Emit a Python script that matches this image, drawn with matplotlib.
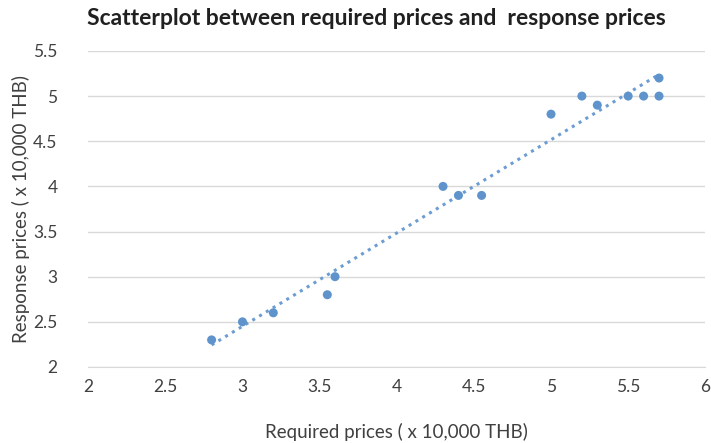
import matplotlib
matplotlib.use("Agg")
import matplotlib.pyplot as plt
import numpy as np

required = [2.8, 3.0, 3.2, 3.55, 3.6, 4.3, 4.4, 4.55, 5.0, 5.2, 5.3, 5.5, 5.6, 5.7, 5.7]
response = [2.3, 2.5, 2.6, 2.8, 3.0, 4.0, 3.9, 3.9, 4.8, 5.0, 4.9, 5.0, 5.0, 5.0, 5.2]
x_ticks = [2, 2.5, 3, 3.5, 4, 4.5, 5, 5.5, 6]
y_ticks = [2, 2.5, 3, 3.5, 4, 4.5, 5, 5.5]
x_tick_labels = ["2", "2.5", "3", "3.5", "4", "4.5", "5", "5.5", "6"]
y_tick_labels = ["2", "2.5", "3", "3.5", "4", "4.5", "5", "5.5"]

plt.rcParams['font.family'] = ['Lato', 'DejaVu Sans']

fig = plt.figure(figsize=(7.11, 4.43), dpi=100)
ax = fig.add_axes([0.124, 0.1716, 0.868, 0.7134])

color = "#5E93CB"
ax.scatter(required, response, s=42, color=color, zorder=3, edgecolors='none')

coef = np.polyfit(required, response, 1)
xs = np.array([min(required), max(required)])
ax.plot(xs, np.polyval(coef, xs), linestyle=(0, (1, 1.6)), color="#6C9DD2", linewidth=2.2, zorder=2)

ax.set_xlim(2, 6)
ax.set_ylim(2, 5.5)
ax.set_xticks(x_ticks)
ax.set_xticklabels(x_tick_labels)
ax.set_yticks(y_ticks)
ax.set_yticklabels(y_tick_labels)
ax.yaxis.grid(True, color="#D9D9D9", linewidth=1)
ax.set_axisbelow(True)
for s in ["top", "right", "left"]:
    ax.spines[s].set_visible(False)
ax.spines["bottom"].set_color("#D9D9D9")
ax.tick_params(axis='both', length=0, labelsize=12.5, colors="#404040")
ax.tick_params(axis='x', pad=9)
ax.tick_params(axis='y', pad=22)

ax.set_xlabel("Required prices ( x 10,000 THB)", fontsize=13.5, color="#404040", labelpad=20)
ax.set_ylabel("Response prices ( x 10,000 THB)", fontsize=13.5, color="#404040", labelpad=2)
fig.text(0.53, 0.958, "Scatterplot between required prices and  response prices",
         ha='center', va='center', fontsize=16.5, fontweight='bold', color="#202020")

fig.savefig("out.png", dpi=100)
